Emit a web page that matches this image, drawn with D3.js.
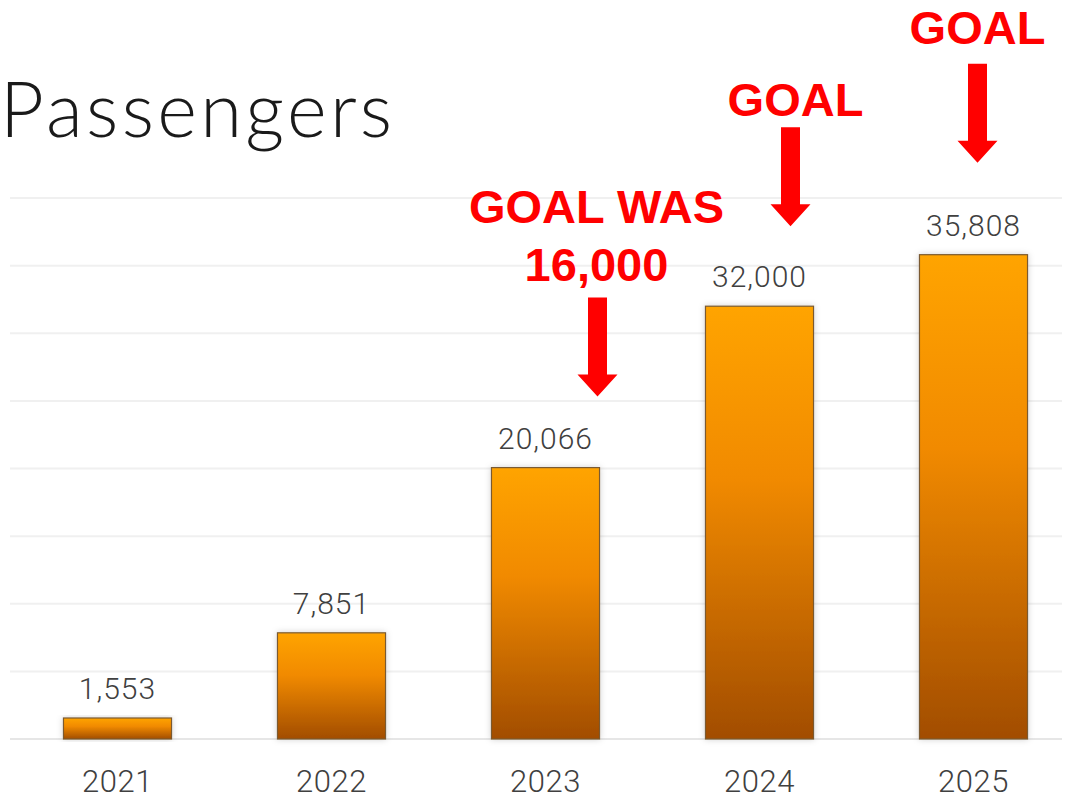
<!DOCTYPE html>
<html>
<head>
<meta charset="utf-8">
<script src="https://cdn.jsdelivr.net/npm/d3@7"></script>
<style>
  body { margin: 0; background: #fff; }
  svg { display: block; }
</style>
</head>
<body>
<script>
// chart data
var years = ['2021', '2022', '2023', '2024', '2025'];
var passengers = [1553, 7851, 20066, 32000, 35808];
var yTicks = [0, 5000, 10000, 15000, 20000, 25000, 30000, 35000, 40000];

// red callouts: year, lines of text
var goalYears = ['2023', '2024', '2025'];
var goalTexts = [['GOAL WAS', '16,000'], ['GOAL'], ['GOAL']];

// callout layout (pixels): arrow shift from bar center, text shift, tip gap above bar, text gap above shaft
var callLayout = [
  { dx: 52, tdx: 51, tipGap: 71, textGap: 17 },
  { dx: 31, tdx: 36, tipGap: 80, textGap: 11 },
  { dx: 4, tdx: 4, tipGap: 92, textGap: 20 }
];

var width = 1068, height = 799;

var svg = d3.select('body').append('svg')
  .attr('width', width)
  .attr('height', height);

var x = d3.scaleBand()
  .domain(years)
  .range([10.5, 1080.5])
  .paddingInner(0.495)
  .paddingOuter(0.2475);

var y = d3.scaleLinear()
  .domain([0, 40000])
  .range([739, 198]);

// gradient for bars
var defs = svg.append('defs');
var grad = defs.append('linearGradient')
  .attr('id', 'barGrad')
  .attr('x1', 0).attr('y1', 0).attr('x2', 0).attr('y2', 1);
grad.append('stop').attr('offset', '0%').attr('stop-color', '#ffa400');
grad.append('stop').attr('offset', '40%').attr('stop-color', '#f18a00');
grad.append('stop').attr('offset', '100%').attr('stop-color', '#a24d00');

var shadow = defs.append('filter').attr('id', 'shadow')
  .attr('x', '-10%').attr('y', '-10%').attr('width', '120%').attr('height', '120%');
shadow.append('feDropShadow')
  .attr('dx', 0).attr('dy', 0).attr('stdDeviation', 3)
  .attr('flood-color', '#000').attr('flood-opacity', 0.18);

// gridlines
svg.append('g')
  .selectAll('line')
  .data(yTicks)
  .enter()
    .append('line')
    .attr('x1', 10)
    .attr('x2', 1062)
    .attr('y1', function(d) { return y(d); })
    .attr('y2', function(d) { return y(d); })
    .attr('stroke', function(d) { return d === 0 ? '#e6e6e6' : '#f0f0f0'; })
    .attr('stroke-width', 2);

// title
svg.append('text')
  .attr('x', 0)
  .attr('y', 137)
  .attr('font-family', 'Lato, "Open Sans", sans-serif')
  .attr('font-weight', 300)
  .attr('font-size', 76)
  .attr('textLength', 392)
  .attr('lengthAdjust', 'spacing')
  .attr('fill', '#1a1a1a')
  .text('Passengers');

// bars
svg.append('g')
  .selectAll('rect')
  .data(passengers)
  .enter()
    .append('rect')
    .attr('x', function(d, i) { return x(years[i]); })
    .attr('y', function(d) { return y(d); })
    .attr('width', x.bandwidth())
    .attr('height', function(d) { return y(0) - y(d); })
    .attr('fill', 'url(#barGrad)')
    .attr('stroke', '#7a5a30')
    .attr('stroke-width', 1.2)
    .attr('filter', 'url(#shadow)');

// value labels
svg.append('g')
  .selectAll('text')
  .data(passengers)
  .enter()
    .append('text')
    .attr('x', function(d, i) { return x(years[i]) + x.bandwidth() / 2; })
    .attr('y', function(d) { return y(d) - 19; })
    .attr('text-anchor', 'middle')
    .attr('font-family', 'Roboto, "Open Sans", sans-serif')
    .attr('font-weight', 300)
    .attr('font-size', 30)
    .attr('letter-spacing', 1)
    .attr('fill', '#404040')
    .text(function(d) { return d3.format(',')(d); });

// x axis labels
svg.append('g')
  .selectAll('text')
  .data(years)
  .enter()
    .append('text')
    .attr('x', function(d) { return x(d) + x.bandwidth() / 2; })
    .attr('y', 792)
    .attr('text-anchor', 'middle')
    .attr('font-family', 'Roboto, "Open Sans", sans-serif')
    .attr('font-weight', 300)
    .attr('font-size', 31)
    .attr('letter-spacing', 0.5)
    .attr('fill', '#404040')
    .text(function(d) { return d; });

// goal callouts (text + arrow above the bar's label)
goalYears.forEach(function(yr, i) {
  var idx = years.indexOf(yr);
  var L = callLayout[i];
  var mid = x(yr) + x.bandwidth() / 2;
  var cx = mid + L.dx;
  var lines = goalTexts[i];
  var tip = y(passengers[idx]) - L.tipGap;
  var shaftTop = tip - 99;
  var headTop = tip - 22;
  var g = svg.append('g');
  g.append('path')
    .attr('d', 'M' + (cx - 9.5) + ',' + shaftTop +
               'L' + (cx + 9.5) + ',' + shaftTop +
               'L' + (cx + 9.5) + ',' + headTop +
               'L' + (cx + 20) + ',' + headTop +
               'L' + cx + ',' + tip +
               'L' + (cx - 20) + ',' + headTop +
               'L' + (cx - 9.5) + ',' + headTop + 'Z')
    .attr('fill', '#ff0000');
  var lastBase = shaftTop - L.textGap;
  lines.forEach(function(t, j) {
    g.append('text')
      .attr('x', mid + L.tdx)
      .attr('y', lastBase - (lines.length - 1 - j) * 58)
      .attr('text-anchor', 'middle')
      .attr('font-family', '"Liberation Sans", Arial, sans-serif')
      .attr('font-weight', 'bold')
      .attr('font-size', 47)
      .attr('fill', '#ff0000')
      .text(t);
  });
});
</script>
</body>
</html>
